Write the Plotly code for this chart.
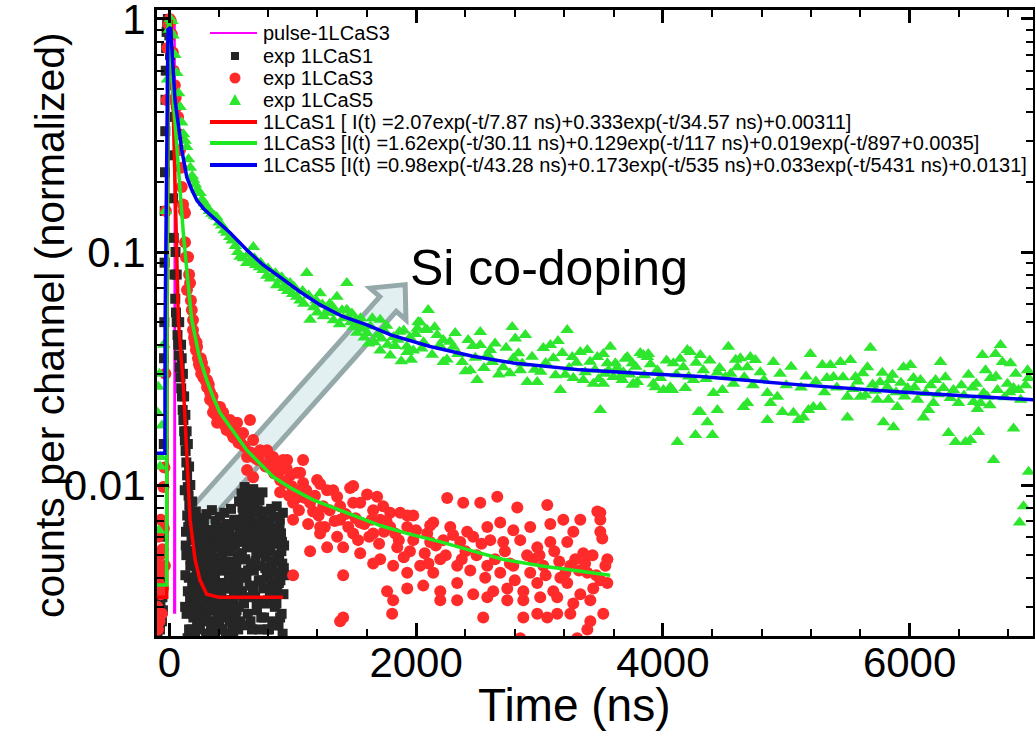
import plotly.graph_objects as go

# ---------------- data ----------------
PULSE_T = [38, 41, 44, 46, 47, 48]
PULSE_Y = [0.0028, 0.5, 1.0, 0.3, 0.02, 0.0028]

S1_T = [
    -100, -96, -92, -88, -84, -80, -76, -72, -68, -64,
    -60, -56, -52, -48, -45, -43, -41, -39, -37, -35,
    -33, -31, -29, -26, -22, -17, -12, -6, 0, 6,
    12, 18, 24, 30, 36, 42, 48, 54, 60, 66,
    72, 78, 84, 90, 96, 102, 108, 114, 120, 126,
    132, 138, 144, 150, 156, 162, 168, 174, 180, 186,
    50, 60, 80, 95, 100, 110, 120, 130, 140, 150,
    160, 170, 185, 192,
    125, 130, 135, 140, 145, 150, 155, 160, 165, 170,
    175, 180, 185, 190, 195, 200, 205, 210, 215, 220,
    225, 230, 235, 240, 245, 250, 255, 260, 265, 270,
    275, 280, 285, 290, 295, 300, 305, 310, 315, 320,
    325, 330, 335, 340, 345, 350, 355, 360, 365, 370,
    375, 380, 385, 390, 395, 400, 405, 410, 415, 420,
    425, 430, 435, 440, 445, 450, 455, 460, 465, 470,
    475, 480, 485, 490, 495, 500, 505, 510, 515, 520,
    525, 530, 535, 540, 545, 550, 555, 560, 565, 570,
    575, 580, 585, 590, 595, 600, 605, 610, 615, 620,
    625, 630, 635, 640, 645, 650, 655, 660, 665, 670,
    675, 680, 685, 690, 695, 700, 705, 710, 715, 720,
    725, 730, 735, 740, 745, 750, 755, 760, 765, 770,
    775, 780, 785, 790, 795, 800, 805, 810, 815, 820,
    825, 830, 835, 840, 845, 850, 855, 860, 865, 870,
    875, 880, 885, 890, 895, 900, 905, 910, 915, 920,
    925, 930, 935,
    128, 138, 148, 158, 168, 178, 188, 198, 208, 218,
    228, 238, 248, 258, 268, 278, 288, 298, 308, 318,
    328, 338, 348, 358, 368, 378, 388, 398, 408, 418,
    428, 438, 448, 458, 468, 478, 488, 498, 508, 518,
    528, 538, 548, 558, 568, 578, 588, 598, 608, 618,
    628, 638, 648, 658, 668, 678, 688, 698, 708, 718,
    728, 738, 748, 758, 768, 778, 788, 798, 808, 818,
    828, 838, 848, 858, 868, 878, 888, 898, 908, 918,
    928,
    133, 153, 173, 193, 213, 233, 253, 273, 293, 313,
    333, 353, 373, 393, 413, 433, 453, 473, 493, 513,
    533, 553, 573, 593, 613, 633, 653, 673, 693, 713,
    733, 753, 773, 793, 813, 833, 853, 873, 893, 913,
    183, 203, 223, 243, 263, 283, 303, 323, 343, 363,
    383, 403, 423, 443, 463, 483, 503, 523, 543, 563,
]
S1_Y = [
    0.0026, 0.0023, 0.0031, 0.0025, 0.0028, 0.0035, 0.0024, 0.0030, 0.0027, 0.0040,
    0.0026, 0.0033, 0.0029, 0.0060, 0.015, 0.035, 0.050, 0.090, 0.15, 0.22,
    0.33, 0.45, 0.60, 0.75, 0.88, 0.97, 1.0, 0.95, 0.85, 0.70,
    0.52, 0.38, 0.26, 0.17, 0.115, 0.080, 0.063, 0.055, 0.050, 0.044,
    0.040, 0.036, 0.032, 0.029, 0.026, 0.024, 0.021, 0.019, 0.017, 0.0155,
    0.014, 0.0125, 0.011, 0.0098, 0.0090, 0.0082, 0.0076, 0.0072, 0.0068, 0.0064,
    0.10, 0.08, 0.05, 0.04, 0.035, 0.030, 0.024, 0.020, 0.017, 0.015,
    0.012, 0.010, 0.0085, 0.0060,
    0.0095, 0.0041, 0.0063, 0.0028, 0.0074, 0.0035, 0.0052, 0.0024, 0.0068, 0.0045,
    0.0031, 0.0058, 0.0038, 0.0071, 0.0027, 0.0049, 0.0062, 0.0033, 0.0077, 0.0042,
    0.0025, 0.0055, 0.0037, 0.0066, 0.0030, 0.0048, 0.0072, 0.0034, 0.0057, 0.0026,
    0.0044, 0.0069, 0.0039, 0.0053, 0.0029, 0.0075, 0.0046, 0.0032, 0.0060, 0.0041,
    0.0023, 0.0064, 0.0036, 0.0051, 0.0078, 0.0033, 0.0047, 0.0026, 0.0059, 0.0040,
    0.0070, 0.0031, 0.0054, 0.0037, 0.0066, 0.0028, 0.0049, 0.0073, 0.0035, 0.0056,
    0.0043, 0.0024, 0.0061, 0.0038, 0.0076, 0.0030, 0.0052, 0.0045, 0.0068, 0.0027,
    0.0058, 0.0036, 0.0063, 0.0041, 0.0032, 0.0079, 0.0047, 0.0025, 0.0055, 0.0039,
    0.0071, 0.0034, 0.0060, 0.0044, 0.0029, 0.0067, 0.0050, 0.0037, 0.0085, 0.0042,
    0.0026, 0.0062, 0.0092, 0.0035, 0.0057, 0.0074, 0.0031, 0.0098, 0.0048, 0.0065,
    0.0040, 0.0088, 0.0028, 0.0054, 0.0095, 0.0037, 0.0070, 0.0046, 0.0082, 0.0024,
    0.0060, 0.0096, 0.0043, 0.0066, 0.0033, 0.0090, 0.0051, 0.0029, 0.0078, 0.0058,
    0.0039, 0.0086, 0.0045, 0.0062, 0.0027, 0.0072, 0.0093, 0.0036, 0.0055, 0.0068,
    0.0031, 0.0049, 0.0077, 0.0040, 0.0024, 0.0061, 0.0044, 0.0070, 0.0033, 0.0053,
    0.0079, 0.0038, 0.0026, 0.0064, 0.0047, 0.0073, 0.0030, 0.0056, 0.0042, 0.0081,
    0.0035, 0.0059, 0.0025, 0.0050, 0.0071, 0.0039, 0.0062, 0.0028, 0.0046, 0.0076,
    0.0034, 0.0055, 0.0041,
    0.0030, 0.0050, 0.0022, 0.0040, 0.0033, 0.0024, 0.0046, 0.0036, 0.0023, 0.0052,
    0.0031, 0.0044, 0.0024, 0.0060, 0.0035, 0.0028, 0.0047, 0.0023, 0.0056, 0.0029,
    0.0042, 0.0025, 0.0062, 0.0034, 0.0023, 0.0048, 0.0028, 0.0055, 0.0032, 0.0024,
    0.0050, 0.0030, 0.0043, 0.0023, 0.0053, 0.0031, 0.0026, 0.0059, 0.0036, 0.0023,
    0.0046, 0.0027, 0.0040, 0.0024, 0.0064, 0.0034, 0.0051, 0.0025, 0.0070, 0.0033,
    0.0056, 0.0043, 0.0078, 0.0026, 0.0058, 0.0036, 0.0083, 0.0047, 0.0031, 0.0064,
    0.0024, 0.0053, 0.0039, 0.0067, 0.0027, 0.0044, 0.0058, 0.0032, 0.0024, 0.0047,
    0.0036, 0.0057, 0.0025, 0.0042, 0.0031, 0.0065, 0.0038, 0.0027, 0.0052, 0.0023,
    0.0044,
    0.0055, 0.0066, 0.0048, 0.0040, 0.0068, 0.0058, 0.0041, 0.0050, 0.0064, 0.0045,
    0.0054, 0.0040, 0.0063, 0.0044, 0.0060, 0.0037, 0.0065, 0.0046, 0.0052, 0.0068,
    0.0056, 0.0070, 0.0048, 0.0080, 0.0058, 0.0072, 0.0062, 0.0076, 0.0055, 0.0088,
    0.0069, 0.0051, 0.0062, 0.0052, 0.0066, 0.0046, 0.0061, 0.0049, 0.0068, 0.0057,
    0.0029, 0.0034, 0.0028, 0.0032, 0.0044, 0.0036, 0.0027, 0.0038, 0.0030, 0.0042,
    0.0030, 0.0026, 0.0035, 0.0028, 0.0032, 0.0040, 0.0029, 0.0033, 0.0045, 0.0030,
]

S3_T = [
    -98, -95, -92, -88, -85, -80, -76, -72, -68, -64,
    -60, -56, -52, -48, -44, -40, -36, -32, -28, -22,
    -15, -5, 3, 12, 20, 28, 36, 44, 52, 60,
    71, 80, 87, 95, 101, 111, 118, 127, 127, 135,
    143, 152, 160, 168, 175, 182, 192, 192, 200, 208,
    215, 225, 232, 240, 249, 258, 265, 275, 290, 306,
    306, 318, 330, 330, 342, 354, 365, 375, 387, 387,
    400, 411, 420, 436, 450, 465, 492, 510, 530, 549,
    573, 585, 598, 630, 630, 654, 679, 679, 700, 736,
    760, 792, 817, 841, 870, 898, 898, 898, 922, 955,
    980, 1003, 1003, 1003, 1036, 1060, 1084, 1084, 1110, 1141,
    1141, 1165, 1198, 1222, 1222, 1222, 1247, 1279, 1279, 1328,
    1360, 1360, 1384, 1384, 1384, 1409, 1409, 1409, 1465, 1490,
    1490, 1490, 1547, 1547, 1547, 1603, 1652, 1652, 1652, 1684,
    1709, 1709, 1733, 1765, 1790, 1790, 1806, 1814, 1814, 1847,
    1871, 1928, 1928, 1928, 1928, 1977, 1977, 2033, 2058, 2090,
    2114, 2114, 2139, 2139, 2196, 2196, 2196, 2220, 2252, 2277,
    2333, 2333, 2333, 2358, 2382, 2414, 2439, 2463, 2463, 2520,
    2544, 2577, 2577, 2577, 2601, 2625, 2658, 2682, 2682, 2706,
    2739, 2739, 2788, 2788, 2820, 2844, 2844, 2869, 2869, 2869,
    2925, 2925, 2982, 2982, 2982, 3006, 3031, 3063, 3063, 3088,
    3088, 3112, 3144, 3144, 3169, 3193, 3225, 3225, 3250, 3250,
    3274, 3274, 3306, 3331, 3331, 3355, 3388, 3388, 3412, 3412,
    3436, 3469, 3493, 3493, 3493, 3493, 3509, 3517, 3534, 3550,
    3550,
    1020, 1050, 1100, 1125, 1180, 1210, 1260, 1300, 1340, 1430,
    1450, 1510, 1530, 1580, 1620, 1640, 1700, 1740, 1760, 1830,
    1860, 1900, 1950, 2000, 2070, 2100, 2160, 2240, 2300, 2370,
    2400, 2490, 2530, 2560, 2640, 2720, 2760, 2800, 2900, 2950,
    3000, 3050, 3120, 3160, 3210, 3290, 3320, 3370, 3430, 3460,
    220, 255, 285, 320, 350, 380, 430, 470, 520, 560,
    610, 660, 720, 780, 850, 930, 950, 970, 990, 1030,
]
S3_Y = [
    0.0030, 0.0045, 0.0024, 0.0060, 0.0038, 0.0026, 0.0050, 0.0034, 0.0071, 0.0042,
    0.0028, 0.0053, 0.0036, 0.0098, 0.0065, 0.0119, 0.0045, 0.030, 0.15, 0.449,
    0.75, 0.95, 1.0, 0.98, 0.86, 0.72, 0.60, 0.52, 0.46, 0.42,
    0.380, 0.32, 0.274, 0.23, 0.190, 0.160, 0.150, 0.147, 0.110, 0.095,
    0.0687, 0.0952, 0.080, 0.0736, 0.062, 0.0564, 0.0511, 0.0463, 0.043, 0.0407,
    0.038, 0.0392, 0.035, 0.033, 0.0321, 0.030, 0.0334, 0.029, 0.0282, 0.0282,
    0.0263, 0.026, 0.0250, 0.0232, 0.024, 0.0205, 0.022, 0.020, 0.0216, 0.0185,
    0.0195, 0.0216, 0.019, 0.0205, 0.018, 0.0172, 0.0190, 0.0165, 0.0175, 0.0185,
    0.0162, 0.0150, 0.0167, 0.0132, 0.0116, 0.0190, 0.0156, 0.0108, 0.0130, 0.0141,
    0.0139, 0.0141, 0.0128, 0.0132, 0.0120, 0.0116, 0.0105, 0.0093, 0.0128, 0.0128,
    0.0110, 0.0084, 0.0071, 0.0041, 0.0113, 0.0113, 0.0128, 0.0102, 0.0095, 0.0084,
    0.0052, 0.0077, 0.0105, 0.0101, 0.0066, 0.0062, 0.0081, 0.0095, 0.0054, 0.0095,
    0.0089, 0.0060, 0.0081, 0.0071, 0.0026, 0.0054, 0.0041, 0.0027, 0.0097, 0.0099,
    0.0084, 0.0062, 0.0084, 0.0069, 0.0051, 0.0091, 0.0078, 0.0062, 0.0046, 0.0089,
    0.0071, 0.0048, 0.0081, 0.0035, 0.0076, 0.0066, 0.0028, 0.0045, 0.0032, 0.0054,
    0.0076, 0.0074, 0.0066, 0.0042, 0.0036, 0.0074, 0.0058, 0.0045, 0.0037, 0.0062,
    0.0067, 0.0057, 0.0069, 0.0042, 0.0048, 0.0035, 0.0032, 0.0058, 0.0088, 0.0066,
    0.0045, 0.0038, 0.0032, 0.0057, 0.0084, 0.0063, 0.0043, 0.0060, 0.0034, 0.0084,
    0.0027, 0.0066, 0.0045, 0.0033, 0.0058, 0.0035, 0.0089, 0.0069, 0.0042, 0.0057,
    0.0036, 0.0032, 0.0064, 0.0045, 0.0080, 0.0058, 0.0022, 0.0035, 0.0032, 0.0027,
    0.0066, 0.0042, 0.0054, 0.0038, 0.0028, 0.0033, 0.0045, 0.0082, 0.0027, 0.0068,
    0.0057, 0.0035, 0.0033, 0.0028, 0.0040, 0.0071, 0.0057, 0.0038, 0.0045, 0.0028,
    0.0063, 0.0031, 0.0022, 0.0071, 0.0034, 0.0051, 0.0042, 0.0024, 0.0032, 0.0026,
    0.0036, 0.0077, 0.0071, 0.0063, 0.0039, 0.0076, 0.0059, 0.0028, 0.0045, 0.0048,
    0.0038,
    0.0095, 0.0078, 0.0088, 0.0068, 0.0090, 0.0074, 0.0066, 0.0078, 0.0070, 0.0075,
    0.0066, 0.0072, 0.0058, 0.0068, 0.0060, 0.0071, 0.0056, 0.0063, 0.0070, 0.0062,
    0.0058, 0.0049, 0.0052, 0.0064, 0.0051, 0.0046, 0.0055, 0.0050, 0.0061, 0.0048,
    0.0052, 0.0050, 0.0056, 0.0040, 0.0048, 0.0052, 0.0046, 0.0039, 0.0050, 0.0048,
    0.0050, 0.0041, 0.0052, 0.0047, 0.0042, 0.0048, 0.0043, 0.0046, 0.0050, 0.0041,
    0.041, 0.035, 0.031, 0.027, 0.024, 0.021, 0.0195, 0.0178, 0.016, 0.0152,
    0.0146, 0.0138, 0.0128, 0.0120, 0.0112, 0.0102, 0.0118, 0.0090, 0.0099, 0.0088,
]

S5_T = [
    -95, -90, -85, -80, -75, -70, -60, -45, -30, -15,
    0, 10, 20, 30, 45, 60, 75, 87, 100, 115,
    128, 141, 155, 170, 185, 195, 210, 225, 249, 265,
    285, 303, 325, 345, 365, 384, 405, 425, 445, 466,
    490, 510, 535, 555, 574, 600, 628, 650, 681, 700,
    730, 760, 790, 820, 850, 870, 898, 930, 960, 979,
    1000, 1033, 1060, 1090, 1114, 1141, 1170, 1200, 1222, 1250,
    1277, 1300, 1330, 1358, 1380, 1410, 1439, 1439, 1470, 1492,
    1520, 1550, 1580, 1601, 1630, 1660, 1690, 1709, 1709, 1740,
    1770, 1790, 1817, 1850, 1880, 1900, 1925, 1928, 1950, 1977,
    2010, 2017, 2033, 2060, 2074, 2088, 2098, 2171, 2220, 2220,
    2301, 2317, 2374, 2422, 2439, 2495, 2520, 2520, 2601, 2617,
    2706, 2779, 2788, 2804, 2844, 2885, 2901, 2982, 3031, 3088,
    3112, 3169, 3185, 3209, 3225, 3266, 3274, 3331, 3355, 3388,
    3436, 3469, 3493, 3530, 3517, 3517, 3550, 3574, 3598, 3615,
    3655, 3671, 3696, 3712, 3753, 3753, 3761, 3793, 3817, 3842,
    3874, 3882, 3923, 3939, 3955, 4004, 4060, 4077, 4085, 4118,
    4166, 4182, 4198, 4223, 4247, 4264, 4288, 4304, 4304, 4328,
    4361, 4402, 4410, 4442, 4442, 4483, 4507, 4531, 4572, 4604,
    4628, 4653, 4685, 4685, 4709, 4750, 4847, 4847, 4872, 4896,
    4928, 4969, 5058, 5099, 5139, 5180, 5196, 5220, 5277, 5293,
    5358, 5383, 5439, 5496, 5496, 5520, 5561, 5601, 5642, 5658,
    5682, 5739, 5779, 5788, 5820, 5828, 5861, 5869, 5901, 5950,
    5983, 6007, 6031, 6064, 6088, 6112, 6153, 6193, 6210, 6250,
    6274, 6315, 6355, 6372, 6396, 6453, 6477, 6493, 6518, 6550,
    6558, 6574, 6590, 6615, 6631, 6656, 6680, 6696, 6712, 6737,
    6753, 6793, 6818, 6842, 6842, 6883, 6891, 6923, 6956, 6964,
    6964,
    1530, 1575, 1615, 1645, 1720, 1760, 1830, 1865, 1960, 1995,
    2045, 2130, 2150, 2190, 2250, 2275, 2340, 2400, 2460, 2480,
    2550, 2580, 2640, 2670, 2730, 2760, 2830, 2860, 2940, 2960,
    3010, 3050, 3130, 3150, 3240, 3300, 3370, 3410, 3450, 3480,
    3560, 3630, 3680, 3730, 3780, 3850, 3900, 3980, 4030, 4110,
    4140, 4210, 4270, 4350, 4380, 4460, 4550, 4590, 4660, 4730,
    4790, 4820, 4950, 5000, 5040, 5120, 5160, 5240, 5310, 5330,
    5410, 5460, 5540, 5580, 5620, 5700, 5720, 5760, 5840, 5890,
    5930, 5960, 6040, 6130, 6170, 6230, 6290, 6330, 6420, 6440,
    6510, 6540, 6600, 6650, 6700, 6770, 6810, 6860, 6900, 6940,
    640, 690, 740, 800, 860, 910, 950, 1010, 1080, 1130,
    1190, 1240, 1290, 1320, 1350, 1400, 1450, 1480, 1510, 1560,
]
S5_Y = [
    0.0204, 0.0264, 0.0064, 0.030, 0.012, 0.0132, 0.018, 0.040, 0.15, 0.55,
    0.90, 1.00, 0.98, 0.85, 0.70, 0.587, 0.48, 0.419, 0.36, 0.32,
    0.30, 0.282, 0.25, 0.23, 0.212, 0.204, 0.195, 0.185, 0.179, 0.168,
    0.162, 0.156, 0.150, 0.146, 0.143, 0.141, 0.134, 0.130, 0.124, 0.121,
    0.116, 0.112, 0.106, 0.100, 0.0955, 0.094, 0.0897, 0.091, 0.105, 0.088,
    0.086, 0.0837, 0.079, 0.077, 0.080, 0.072, 0.0757, 0.070, 0.068, 0.0737,
    0.066, 0.0643, 0.062, 0.060, 0.0812, 0.0512, 0.058, 0.055, 0.0665, 0.053,
    0.0549, 0.060, 0.051, 0.0643, 0.049, 0.052, 0.0737, 0.0565, 0.050, 0.0477,
    0.045, 0.052, 0.043, 0.0449, 0.048, 0.041, 0.044, 0.0512, 0.0378, 0.046,
    0.040, 0.036, 0.0432, 0.042, 0.034, 0.046, 0.0393, 0.0372, 0.043, 0.0378,
    0.047, 0.0501, 0.0498, 0.041, 0.0463, 0.0464, 0.0564, 0.0440, 0.0419, 0.0337,
    0.0392, 0.0449, 0.0337, 0.0419, 0.0311, 0.0282, 0.0454, 0.0399, 0.0380, 0.0337,
    0.0320, 0.0477, 0.0350, 0.0425, 0.0311, 0.0440, 0.0277, 0.0277, 0.0387, 0.0399,
    0.0350, 0.0256, 0.0369, 0.0297, 0.0463, 0.0354, 0.0288, 0.0372, 0.0282, 0.0380,
    0.0272, 0.0354, 0.0210, 0.0300, 0.0365, 0.0272, 0.0333, 0.0392, 0.0291, 0.0333,
    0.0291, 0.0282, 0.0348, 0.0354, 0.0333, 0.0269, 0.0272, 0.0277, 0.0369, 0.0361,
    0.0354, 0.0365, 0.0272, 0.0263, 0.0311, 0.0256, 0.0263, 0.0256, 0.0333, 0.0153,
    0.0320, 0.0261, 0.0380, 0.0372, 0.0282, 0.0164, 0.0206, 0.0361, 0.0206, 0.0311,
    0.0186, 0.0164, 0.0248, 0.0304, 0.0210, 0.0256, 0.0291, 0.0392, 0.0272, 0.0320,
    0.0350, 0.0216, 0.0320, 0.0225, 0.0354, 0.0344, 0.0248, 0.0190, 0.0225, 0.0337,
    0.0239, 0.0206, 0.0204, 0.0190, 0.0195, 0.0210, 0.0365, 0.0216, 0.0216, 0.0327,
    0.0327, 0.0291, 0.0337, 0.0239, 0.0195, 0.0344, 0.0291, 0.0239, 0.0243, 0.0320,
    0.0388, 0.0232, 0.0303, 0.0186, 0.0263, 0.0232, 0.0297, 0.0177, 0.0216, 0.0320,
    0.0261, 0.0327, 0.0288, 0.0232, 0.0282, 0.0195, 0.0210, 0.0225, 0.0282, 0.0337,
    0.0261, 0.0167, 0.0256, 0.0153, 0.0225, 0.0153, 0.0297, 0.0156, 0.0227, 0.0212,
    0.0169, 0.0225, 0.0361, 0.0311, 0.0239, 0.0288, 0.0128, 0.0365, 0.0256, 0.0399,
    0.0337, 0.0272, 0.0333, 0.0261, 0.0175, 0.0256, 0.0069, 0.0081, 0.0311, 0.0288,
    0.0114,
    0.0495, 0.0468, 0.0405, 0.052, 0.0425, 0.0482, 0.0395, 0.0455, 0.0345, 0.0445,
    0.0385, 0.0362, 0.0475, 0.0398, 0.0346, 0.0412, 0.0365, 0.0308, 0.0395, 0.0352,
    0.0318, 0.0362, 0.0405, 0.0298, 0.0388, 0.0302, 0.0368, 0.0332, 0.0355, 0.0312,
    0.0306, 0.0334, 0.0296, 0.0415, 0.0318, 0.0335, 0.0305, 0.0338, 0.0312, 0.0285,
    0.0310, 0.0318, 0.0305, 0.0298, 0.0322, 0.0296, 0.0330, 0.0288, 0.0342, 0.0298,
    0.0348, 0.0292, 0.0335, 0.0285, 0.0342, 0.0318, 0.0300, 0.0345, 0.0290, 0.0268,
    0.0305, 0.0282, 0.0300, 0.0268, 0.0322, 0.0262, 0.0292, 0.0278, 0.0250, 0.0288,
    0.0262, 0.0290, 0.0258, 0.0278, 0.0302, 0.0270, 0.0254, 0.0276, 0.0282, 0.0250,
    0.0275, 0.0240, 0.0262, 0.0248, 0.0268, 0.0245, 0.0290, 0.0236, 0.0268, 0.0242,
    0.0262, 0.0272, 0.0248, 0.0220, 0.0292, 0.0238, 0.0250, 0.0300, 0.0232, 0.0268,
    0.098, 0.094, 0.090, 0.085, 0.081, 0.078, 0.074, 0.071, 0.068, 0.065,
    0.062, 0.0595, 0.0572, 0.0585, 0.0548, 0.0562, 0.0528, 0.0545, 0.0512, 0.0485,
]

FIT1_T = [-100, -21, -18, -5, 14, 42, 73, 114, 144, 168, 208, 249, 303, 400, 573, 700, 922]
FIT1_Y = [0.0033, 0.0033, 0.05, 0.95, 0.99, 0.225, 0.051, 0.0263, 0.0116, 0.0071, 0.0048,
          0.0039, 0.0034, 0.0033, 0.0033, 0.0033, 0.0033]

FIT3_T = [-100, -22, -20, -8, 5, 32, 73, 113, 150, 182, 240, 303, 360, 411, 492, 628, 841,
          1000, 1165, 1384, 1709, 1925, 2200, 2463, 2700, 3006, 3300, 3573]
FIT3_Y = [0.00372, 0.00372, 0.05, 0.95, 0.99, 0.449, 0.232, 0.121, 0.075, 0.0511, 0.036,
          0.0282, 0.0235, 0.0204, 0.0178, 0.0141, 0.01085, 0.0096, 0.00863, 0.0078, 0.0067,
          0.0062, 0.0057, 0.0052, 0.0048, 0.0045, 0.0043, 0.0041]

FIT5_T = [-100, -36, -34, -11, 10, 46, 101, 141, 180, 222, 280, 354, 492, 628, 760, 898,
          1050, 1222, 1400, 1601, 1800, 2114, 2450, 2788, 3331, 3800, 4304, 5115, 5926, 7005]
FIT5_Y = [0.0137, 0.0137, 0.05, 0.90, 0.92, 0.449, 0.274, 0.210, 0.186, 0.167, 0.153, 0.141,
          0.121, 0.102, 0.088, 0.078, 0.068, 0.0593, 0.053, 0.0487, 0.044, 0.0393, 0.0358,
          0.0334, 0.0312, 0.0302, 0.0292, 0.0269, 0.0251, 0.0232]

NAMES = [
    "pulse-1LCaS3",
    "exp 1LCaS1",
    "exp 1LCaS3",
    "exp 1LCaS5",
    "1LCaS1 [ I(t) =2.07exp(-t/7.87 ns)+0.333exp(-t/34.57 ns)+0.00311]",
    "1LCaS3 [I(t) =1.62exp(-t/30.11 ns)+0.129exp(-t/117 ns)+0.019exp(-t/897+0.0035]",
    "1LCaS5 [I(t) =0.98exp(-t/43.28 ns)+0.173exp(-t/535 ns)+0.033exp(-t/5431 ns)+0.0131]",
]

X_TICKS = [0, 2000, 4000, 6000]
Y_TICKS = [0.01, 0.1, 1]
Y_TICK_TEXT = ["0.01", "0.1", "1"]
Y_MINOR = [0.003, 0.004, 0.005, 0.006, 0.007, 0.008, 0.009,
           0.02, 0.03, 0.04, 0.05, 0.06, 0.07, 0.08, 0.09,
           0.2, 0.3, 0.4, 0.5, 0.6, 0.7, 0.8, 0.9]

FONT = "Liberation Sans, Arial, sans-serif"
C_PULSE, C_S1, C_S3, C_S5 = "#ff00ff", "#262626", "#ff2b2b", "#2ee62e"
C_F1, C_F3, C_F5 = "#ff0000", "#1ee81e", "#0000f0"

# ---------------- figure ----------------
fig = go.Figure()
fig.add_trace(go.Scatter(x=PULSE_T, y=PULSE_Y, mode="lines", name=NAMES[0],
                         line=dict(color=C_PULSE, width=2)))
fig.add_trace(go.Scatter(x=S1_T, y=S1_Y, mode="markers", name=NAMES[1],
                         marker=dict(symbol="square", size=10, color=C_S1, line=dict(width=0))))
fig.add_trace(go.Scatter(x=S3_T, y=S3_Y, mode="markers", name=NAMES[2],
                         marker=dict(symbol="circle", size=12, color=C_S3, line=dict(width=0))))
fig.add_trace(go.Scatter(x=S5_T, y=S5_Y, mode="markers", name=NAMES[3],
                         marker=dict(symbol="triangle-up", size=12, color=C_S5, line=dict(width=0))))
fig.add_trace(go.Scatter(x=FIT1_T, y=FIT1_Y, mode="lines", name=NAMES[4],
                         line=dict(color=C_F1, width=3.5)))
fig.add_trace(go.Scatter(x=FIT3_T, y=FIT3_Y, mode="lines", name=NAMES[5],
                         line=dict(color=C_F3, width=3.5)))
fig.add_trace(go.Scatter(x=FIT5_T, y=FIT5_Y, mode="lines", name=NAMES[6],
                         line=dict(color=C_F5, width=3.5)))

# plot area in pixels: left 157, right 1033, top 10, bottom 636
L, R, T, B = 157, 1033, 10, 636


def px(xp):
    return (xp - L) / (R - L)


def py(yp):
    return (B - yp) / (B - T)


# block arrow
arrow_pts = [(191.8, 507.7), (379.8, 296.7), (370.0, 288.1), (405.2, 284.6),
             (406.0, 319.9), (396.2, 311.3), (208.2, 522.3)]
path = "M " + " L ".join(f"{px(a):.4f},{py(b):.4f}" for a, b in arrow_pts) + " Z"
fig.add_shape(type="path", path=path, xref="paper", yref="paper", layer="below",
              fillcolor="#e3f0f2", line=dict(color="#95a8aa", width=5))

# legend (drawn by hand to match the compact row spacing)
ROWS = [33, 56, 78, 100, 122, 143, 165]
SYM_X0, SYM_X1, SYM_XC, TXT_X = 210, 257, 235, 261
for r, col, w in [(ROWS[0], C_PULSE, 2), (ROWS[4], C_F1, 4), (ROWS[5], C_F3, 4), (ROWS[6], C_F5, 4)]:
    fig.add_shape(type="line", xref="paper", yref="paper", x0=px(SYM_X0), x1=px(SYM_X1),
                  y0=py(r), y1=py(r), line=dict(color=col, width=w))
fig.add_shape(type="rect", xref="paper", yref="paper", x0=px(SYM_XC - 4), x1=px(SYM_XC + 4),
              y0=py(ROWS[1] + 4), y1=py(ROWS[1] - 4), fillcolor=C_S1, line=dict(width=0))
fig.add_shape(type="circle", xref="paper", yref="paper", x0=px(SYM_XC - 5.5), x1=px(SYM_XC + 5.5),
              y0=py(ROWS[2] + 5.5), y1=py(ROWS[2] - 5.5), fillcolor=C_S3, line=dict(width=0))
tri = [(SYM_XC - 6, ROWS[3] + 5), (SYM_XC + 6, ROWS[3] + 5), (SYM_XC, ROWS[3] - 6)]
fig.add_shape(type="path", xref="paper", yref="paper",
              path="M " + " L ".join(f"{px(a):.4f},{py(b):.4f}" for a, b in tri) + " Z",
              fillcolor=C_S5, line=dict(width=0))
for r, name in zip(ROWS, NAMES):
    fig.add_annotation(text=name, xref="paper", yref="paper", x=px(TXT_X), y=py(r),
                       xanchor="left", yanchor="middle", showarrow=False,
                       font=dict(family=FONT, size=20, color="black"))

fig.add_annotation(text="Si co-doping", xref="paper", yref="paper",
                   x=px(408), y=py(268), xanchor="left", yanchor="middle",
                   showarrow=False, font=dict(family=FONT, size=50, color="black"))
fig.add_annotation(text="Time (ns)", xref="paper", yref="paper",
                   x=px(574), y=py(705), xanchor="center", yanchor="middle",
                   showarrow=False, font=dict(family=FONT, size=46, color="black"))
fig.add_annotation(text="counts per channel (normalized)", xref="paper", yref="paper",
                   x=px(50), y=py(325), xanchor="center", yanchor="middle", textangle=-90,
                   showarrow=False, font=dict(family=FONT, size=41, color="black"))

fig.update_layout(
    width=1035, height=739,
    margin=dict(l=L, r=1035 - R, t=T, b=739 - B, autoexpand=False),
    paper_bgcolor="white", plot_bgcolor="white",
    font=dict(family=FONT, color="black"),
    showlegend=False,
    xaxis=dict(range=[-100, 7000], tickvals=X_TICKS, ticks="inside", ticklen=13,
               tickwidth=2.5, tickcolor="black", showline=True, linewidth=3,
               linecolor="black", mirror="ticks", showgrid=False, zeroline=False,
               automargin=False,
               ticklabelstandoff=-12, ticklabeloverflow="allow",
               tickfont=dict(family=FONT, size=42, color="black"),
               minor=dict(dtick=400, tick0=0, ticks="inside", ticklen=7, tickwidth=2,
                          tickcolor="black", showgrid=False)),
    yaxis=dict(type="log", range=[-2.648, 0.0386], tickvals=Y_TICKS, ticktext=Y_TICK_TEXT,
               ticks="inside", ticklen=12, tickwidth=2.5, tickcolor="black",
               showline=True, linewidth=3, linecolor="black", mirror="ticks",
               showgrid=False, zeroline=False, ticklabeloverflow="allow",
               automargin=False,
               tickfont=dict(family=FONT, size=42, color="black"),
               minor=dict(tickvals=Y_MINOR, ticks="inside", ticklen=7, tickwidth=2,
                          tickcolor="black", showgrid=False)),
)

fig.write_html("out.html")
